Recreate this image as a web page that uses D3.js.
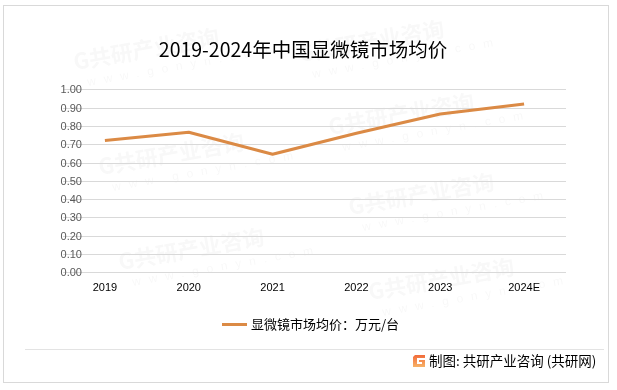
<!DOCTYPE html>
<html>
<head>
<meta charset="utf-8">
<script src="https://cdn.jsdelivr.net/npm/d3@7"></script>
<style>
  html, body { margin: 0; padding: 0; background: #fff; }
  svg { display: block; font-family: "Noto Sans CJK SC", "Microsoft YaHei", sans-serif; }
</style>
</head>
<body>
<div id="chart"></div>
<script>
// 数据
const years = ['2019', '2020', '2021', '2022', '2023', '2024E'];
const prices = [0.72, 0.765, 0.645, 0.76, 0.865, 0.92];
const yTicks = [0, 0.1, 0.2, 0.3, 0.4, 0.5, 0.6, 0.7, 0.8, 0.9, 1.0];
const title = '2019-2024年中国显微镜市场均价';
const seriesName = '显微镜市场均价：万元/台';
const source = '制图: 共研产业咨询 (共研网)';

const W = 617, H = 390;
const plot = { left: 63, right: 566, top: 89.3, bottom: 272.3 };
const lineColor = '#db8a45';

const svg = d3.select('#chart').append('svg')
    .attr('width', W)
    .attr('height', H);

// 外框
svg.append('rect')
    .attr('x', 3.5).attr('y', 5.5)
    .attr('width', 605).attr('height', 377)
    .attr('fill', '#fff')
    .attr('stroke', '#d9d9d9');

// 水印（很淡）
const wm = svg.append('g').attr('fill', '#000').attr('opacity', 0.03);
const wmPos = [[75, 70], [300, 62], [330, 135], [100, 175], [350, 215], [120, 270], [370, 300]];
wmPos.forEach(([x, y]) => {
    const g = wm.append('g').attr('transform', `translate(${x},${y}) rotate(-10)`);
    g.append('text').attr('font-size', 22).attr('font-weight', 'bold')
        .attr('x', 0).attr('y', 0).text('G共研产业咨询');
    g.append('text').attr('font-size', 12).attr('letter-spacing', 8)
        .attr('x', 10).attr('y', 18).attr('font-family', 'Arial, sans-serif').text('www.gonyn.com');
});

// 标题
svg.append('text')
    .attr('x', 303).attr('y', 57)
    .attr('text-anchor', 'middle')
    .attr('font-size', 19.5)
    .attr('fill', '#000')
    .text(title);

// 比例尺
const x = d3.scaleBand().domain(years).range([plot.left, plot.right]);
const y = d3.scaleLinear().domain([0, 1]).range([plot.bottom, plot.top]);

// 网格线
svg.append('g')
    .selectAll('line')
    .data(yTicks)
    .join('line')
    .attr('x1', plot.left).attr('x2', plot.right)
    .attr('y1', d => Math.round(y(d)) + 0.5).attr('y2', d => Math.round(y(d)) + 0.5)
    .attr('stroke', '#d9d9d9')
    .attr('stroke-width', 1);

// y轴
const yAxis = d3.axisLeft(y).tickValues(yTicks).tickFormat(d3.format('.2f')).tickSize(0).tickPadding(0);
svg.append('g')
    .attr('transform', `translate(82,0)`)
    .call(yAxis)
    .call(g => g.select('.domain').remove())
    .call(g => g.selectAll('text')
        .attr('font-family', '"Liberation Sans", Arial, sans-serif')
        .attr('font-size', 11).attr('fill', '#595959'));

// x轴
const xAxis = d3.axisBottom(x).tickSize(0).tickPadding(0);
svg.append('g')
    .attr('transform', `translate(0,${plot.bottom + 11})`)
    .call(xAxis)
    .call(g => g.select('.domain').remove())
    .call(g => g.selectAll('text')
        .attr('font-family', '"Liberation Sans", Arial, sans-serif')
        .attr('font-size', 11).attr('fill', '#000'));

// 折线
const line = d3.line()
    .x((d, i) => x(years[i]) + x.bandwidth() / 2)
    .y(d => y(d));

svg.append('path')
    .datum(prices)
    .attr('d', line)
    .attr('fill', 'none')
    .attr('stroke', lineColor)
    .attr('stroke-width', 3)
    .attr('stroke-linejoin', 'round');

// 图例
svg.append('line')
    .attr('x1', 222).attr('x2', 247)
    .attr('y1', 324.5).attr('y2', 324.5)
    .attr('stroke', lineColor)
    .attr('stroke-width', 3);
svg.append('text')
    .attr('x', 251).attr('y', 329)
    .attr('font-size', 13)
    .attr('fill', '#000')
    .text(seriesName);

// 分隔线
svg.append('line')
    .attr('x1', 25).attr('x2', 604)
    .attr('y1', 349.5).attr('y2', 349.5)
    .attr('stroke', '#e3e3e3');

// 来源 logo
const logo = svg.append('g').attr('transform', 'translate(413,355)');
const grad = svg.append('defs').append('linearGradient')
    .attr('id', 'logoGrad').attr('x1', 0).attr('y1', 0).attr('x2', 0).attr('y2', 1);
grad.append('stop').attr('offset', '0%').attr('stop-color', '#f26b3a');
grad.append('stop').attr('offset', '100%').attr('stop-color', '#f7b267');
logo.append('path')
    .attr('d', 'M2,0 H12 V3 H4 V9 H9 V7 H6 V5 H12 V12 H0 V2 Z')
    .attr('fill', 'url(#logoGrad)');

svg.append('text')
    .attr('x', 429).attr('y', 366)
    .attr('font-size', 13.5)
    .attr('fill', '#000')
    .text(source);
</script>
</body>
</html>
